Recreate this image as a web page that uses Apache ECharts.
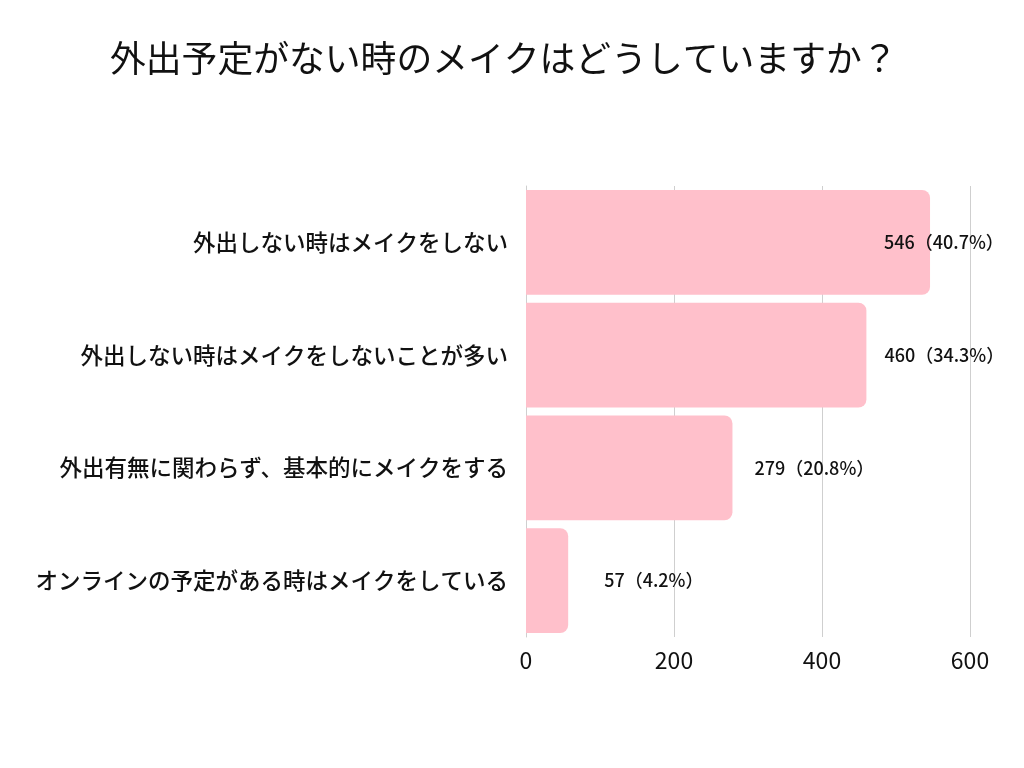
<!DOCTYPE html>
<html><head><meta charset="utf-8">
<script src="https://cdn.jsdelivr.net/npm/echarts@6/dist/echarts.min.js"></script>
<style>html,body{margin:0;padding:0;background:#fff}#c{width:1024px;height:768px}</style>
</head><body><div id="c"></div>
<script>
const titleText = '外出予定がない時のメイクはどうしていますか？';
const categories = [
  '外出しない時はメイクをしない',
  '外出しない時はメイクをしないことが多い',
  '外出有無に関わらず、基本的にメイクをする',
  'オンラインの予定がある時はメイクをしている'
];
const values = [546, 460, 279, 57];
const percents = ['40.7%', '34.3%', '20.8%', '4.2%'];
const xTicks = [0, 200, 400, 600];
const labelOffsets = [-46, 18, 22, 36];

const chart = echarts.init(document.getElementById('c'));
const font = '"Noto Sans CJK JP", "Noto Sans", sans-serif';
chart.setOption({
  backgroundColor: '#fff',
  animation: false,
  title: {
    text: titleText, left: 105, top: 35,
    textStyle: {fontFamily: font, fontSize: 35.8, fontWeight: 'normal', color: '#111'}
  },
  grid: {left: 526, right: 54, top: 186, bottom: 131, containLabel: false},
  xAxis: {
    type: 'value', min: xTicks[0], max: xTicks[xTicks.length - 1], interval: 200,
    axisLine: {show: false}, axisTick: {show: false},
    splitLine: {lineStyle: {color: '#cfcfcf', width: 1}},
    axisLabel: {fontFamily: font, fontSize: 23, color: '#111', margin: 12}
  },
  yAxis: {
    type: 'category', inverse: true, data: categories,
    axisLine: {show: true, lineStyle: {color: '#cfcfcf'}}, axisTick: {show: false},
    axisLabel: {fontFamily: font, fontSize: 22.5, fontWeight: 500, color: '#111', margin: 18}
  },
  series: [{
    type: 'bar', barCategoryGap: '7%',
    data: values.map((v, i) => ({
      value: v,
      label: {offset: [labelOffsets[i], 0]}
    })),
    itemStyle: {color: '#FFC0CB', borderRadius: [0, 8, 8, 0]},
    label: {
      show: true, position: 'right', distance: 0,
      fontFamily: font, fontSize: 18, fontWeight: 500, color: '#111',
      formatter: p => p.value + '（' + percents[p.dataIndex] + '）'
    }
  }]
});
</script></body></html>
